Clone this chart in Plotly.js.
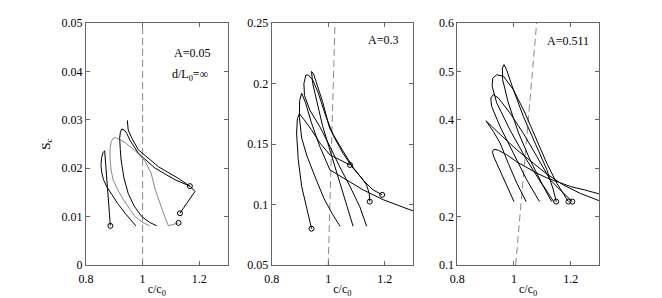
<!DOCTYPE html>
<html><head><meta charset="utf-8">
<script src="https://cdn.plot.ly/plotly-3.0.1.min.js"></script>
<style>html,body{margin:0;padding:0;background:#fff}</style>
</head><body><div id="chart" style="width:662px;height:298px"></div>
<script>
// ---------- Panel 1 (A=0.05) ----------
const p1A_x = [0.886,0.880,0.874,0.869,0.866,0.860,0.855,0.853,0.856,0.862,0.875,0.891,0.912,0.938,0.958,0.976];
const p1A_y = [0.0081,0.0130,0.0185,0.0225,0.0236,0.0232,0.0222,0.0205,0.0190,0.0176,0.0160,0.0146,0.0127,0.0107,0.0093,0.0081];
const p1B_x = [1.127,1.091,1.075,1.060,1.045,1.030,1.008,0.980,0.961,0.940,0.920,0.905,0.896,0.889,0.885,0.885,0.889,0.896,0.910,0.926,0.948,0.973,1.000,1.025];
const p1B_y = [0.0087,0.0081,0.0105,0.0130,0.0155,0.0190,0.0215,0.0233,0.0242,0.0252,0.0259,0.0263,0.0262,0.0255,0.0240,0.0217,0.0195,0.0176,0.0158,0.0141,0.0121,0.0100,0.0088,0.0081];
const p1C_x = [1.167,1.115,1.044,0.985,0.955,0.944,0.935,0.926,0.921,0.919,0.921,0.924,0.934,0.949,0.970,0.997,1.025,1.050];
const p1C_y = [0.0163,0.0176,0.0200,0.0231,0.0258,0.0272,0.0279,0.0281,0.0273,0.0262,0.0240,0.0217,0.0180,0.0148,0.0122,0.0100,0.0088,0.0081];
const p1D_x = [1.132,1.185,1.167,1.126,1.056,0.985,0.962,0.949,0.946];
const p1D_y = [0.0107,0.0152,0.0163,0.0179,0.0203,0.0238,0.0262,0.0279,0.0299];
const p1Start_x = [0.886,1.127,1.167,1.132];
const p1Start_y = [0.0081,0.0087,0.0163,0.0107];
const p1Dash_x = [1.0,1.0];
const p1Dash_y = [0.0,0.05];

// ---------- Panel 2 (A=0.3) ----------
const p2A_x = [0.941,0.924,0.906,0.894,0.888,0.891,0.898,0.915,0.940,0.970,1.006,1.040,1.077];
const p2A_y = [0.080,0.098,0.115,0.137,0.159,0.171,0.175,0.170,0.162,0.151,0.141,0.137,0.1327];
const p2B_x = [1.30,1.25,1.194,1.124,1.06,1.006,0.970,0.940,0.920,0.906,0.899,0.898,0.906,0.925,0.955,0.985,1.015,1.042];
const p2B_y = [0.0947,0.099,0.104,0.112,0.121,0.1286,0.148,0.168,0.184,0.192,0.186,0.172,0.155,0.140,0.122,0.105,0.092,0.082];
const p2C_x = [1.147,1.145,1.136,1.118,1.088,1.053,1.018,0.990,0.965,0.945,0.930,0.921,0.914,0.916,0.935,0.971,1.006,1.041,1.077,1.112,1.136];
const p2C_y = [0.1024,0.109,0.116,0.122,0.130,0.142,0.157,0.174,0.192,0.203,0.207,0.207,0.200,0.190,0.178,0.164,0.148,0.131,0.115,0.098,0.082];
const p2D_x = [1.191,1.159,1.124,1.090,1.050,1.005,0.980,0.960,0.948,0.941,0.945,0.960,0.980,1.006,1.035,1.065,1.088];
const p2D_y = [0.108,0.112,0.120,0.130,0.145,0.163,0.185,0.200,0.208,0.210,0.200,0.185,0.165,0.145,0.123,0.101,0.082];
const p2Start_x = [0.941,1.077,1.147,1.191];
const p2Start_y = [0.080,0.1327,0.1024,0.108];
const p2Dash_x = [1.0,1.024];
const p2Dash_y = [0.05,0.25];

// ---------- Panel 3 (A=0.511) ----------
const p3A_x = [1.140,1.098,1.057,1.016,0.980,0.960,0.959,0.965,0.974,0.998,1.033,1.075,1.116,1.139,1.149];
const p3A_y = [0.231,0.269,0.317,0.373,0.435,0.483,0.507,0.514,0.503,0.462,0.407,0.352,0.297,0.255,0.231];
const p3B_x = [1.133,1.104,1.045,0.986,0.939,0.923,0.925,0.939,0.963,0.998,1.039,1.081,1.116,1.151,1.175,1.192];
const p3B_y = [0.231,0.262,0.317,0.379,0.435,0.469,0.486,0.493,0.490,0.462,0.414,0.359,0.310,0.269,0.245,0.231];
const p3C_x = [1.090,1.045,0.998,0.951,0.921,0.918,0.927,0.945,0.986,1.033,1.081,1.128,1.163,1.186,1.200,1.206];
const p3C_y = [0.231,0.276,0.331,0.386,0.428,0.445,0.452,0.445,0.414,0.372,0.324,0.276,0.255,0.241,0.234,0.231];
const p3D_x = [1.043,1.010,0.980,0.951,0.927,0.901,0.951,1.010,1.069,1.116,1.175,1.234,1.30];
const p3D_y = [0.231,0.269,0.310,0.352,0.376,0.398,0.370,0.338,0.310,0.288,0.265,0.248,0.233];
const p3E_x = [1.000,0.975,0.950,0.930,0.924,0.927,0.933,0.945,0.974,1.010,1.045,1.080,1.116,1.160,1.200,1.250,1.30];
const p3E_y = [0.231,0.262,0.296,0.322,0.333,0.338,0.339,0.337,0.328,0.313,0.301,0.290,0.280,0.270,0.262,0.255,0.247];
const p3Start_x = [1.149,1.192,1.206];
const p3Start_y = [0.231,0.231,0.231];
const p3Dash_x = [1.006,1.08];
const p3Dash_y = [0.1,0.6];

// ---------- Axes / labels ----------
const xTickVals = [0.8,1,1.2];
const xTickText = ['0.8','1','1.2'];
const y1TickVals = [0,0.01,0.02,0.03,0.04,0.05];
const y1TickText = ['0','0.01','0.02','0.03','0.04','0.05'];
const y2TickVals = [0.05,0.1,0.15,0.2,0.25];
const y2TickText = ['0.05','0.1','0.15','0.2','0.25'];
const y3TickVals = [0.1,0.2,0.3,0.4,0.5,0.6];
const y3TickText = ['0.1','0.2','0.3','0.4','0.5','0.6'];
const panelLabels = ['A=0.05','A=0.3','A=0.511'];

const FONT = 'Liberation Serif';
const thick = {color:'#000', width:1};
const thin = {color:'#555', width:0.7};
const dash = {color:'#888', width:1, dash:'7px,4px'};

function line(x,y,xa,ya,ln){return {x:x,y:y,xaxis:xa,yaxis:ya,type:'scatter',mode:'lines',line:ln,hoverinfo:'skip',showlegend:false};}
function circ(x,y,xa,ya){return {x:x,y:y,xaxis:xa,yaxis:ya,type:'scatter',mode:'markers',marker:{symbol:'circle-open',size:5,color:'#000',line:{width:1,color:'#000'}},hoverinfo:'skip',showlegend:false};}

const data = [
  line(p1Dash_x,p1Dash_y,'x','y',dash),
  line(p1A_x,p1A_y,'x','y',thick),
  line(p1B_x,p1B_y,'x','y',thin),
  line(p1C_x,p1C_y,'x','y',thick),
  line(p1D_x,p1D_y,'x','y',thick),
  circ(p1Start_x,p1Start_y,'x','y'),
  line(p2Dash_x,p2Dash_y,'x2','y2',dash),
  line(p2A_x,p2A_y,'x2','y2',thick),
  line(p2B_x,p2B_y,'x2','y2',thick),
  line(p2C_x,p2C_y,'x2','y2',thick),
  line(p2D_x,p2D_y,'x2','y2',thick),
  circ(p2Start_x,p2Start_y,'x2','y2'),
  line(p3Dash_x,p3Dash_y,'x3','y3',dash),
  line(p3A_x,p3A_y,'x3','y3',thick),
  line(p3B_x,p3B_y,'x3','y3',thick),
  line(p3C_x,p3C_y,'x3','y3',thick),
  line(p3D_x,p3D_y,'x3','y3',thick),
  line(p3E_x,p3E_y,'x3','y3',thick),
  circ(p3Start_x,p3Start_y,'x3','y3')
];

function xax(dom, anchor){
  return {domain:dom, anchor:anchor, range:[0.8,1.3], tickvals:xTickVals, ticktext:xTickText,
    ticks:'inside', ticklen:4, tickcolor:'#666', mirror:'ticks', showline:true, linecolor:'#666', linewidth:1,
    showgrid:false, zeroline:false, automargin:false, ticklabelstandoff:3,
    tickfont:{family:FONT,size:12,color:'#000'},
    title:{text:'c/c<sub>0</sub>', font:{family:FONT,size:12,color:'#000'}, standoff:1}};
}
function yax(anchor, range, tv, tt, title){
  const a = {anchor:anchor, domain:[0,1], range:range, tickvals:tv, ticktext:tt,
    ticks:'inside', ticklen:4, tickcolor:'#666', mirror:'ticks', showline:true, linecolor:'#666', linewidth:1,
    showgrid:false, zeroline:false, automargin:false,
    tickfont:{family:FONT,size:12,color:'#000'}};
  if (title) a.title = {text:title, font:{family:FONT,size:13,color:'#000'}, standoff:8};
  return a;
}

const layout = {
  width:662, height:298, margin:{l:0,r:0,t:23,b:33},
  paper_bgcolor:'#fff', plot_bgcolor:'#fff',
  font:{family:FONT,size:12,color:'#000'},
  xaxis: xax([0.1299,0.3437],'y'),
  yaxis: yax('x',[0,0.05],y1TickVals,y1TickText,'S<sub>c</sub>'),
  xaxis2: xax([0.4104,0.6239],'y2'),
  yaxis2: yax('x2',[0.05,0.25],y2TickVals,y2TickText,null),
  xaxis3: xax([0.6908,0.9048],'y3'),
  yaxis3: yax('x3',[0.1,0.6],y3TickVals,y3TickText,null),
  annotations:[
    {xref:'x',yref:'y',x:1.173,y:0.0439,text:panelLabels[0],showarrow:false,font:{family:FONT,size:12,color:'#000'}},
    {xref:'x',yref:'y',x:1.167,y:0.0392,text:'d/L<sub>0</sub>=∞',showarrow:false,font:{family:FONT,size:12,color:'#000'}},
    {xref:'x2',yref:'y2',x:1.194,y:0.236,text:panelLabels[1],showarrow:false,font:{family:FONT,size:12,color:'#000'}},
    {xref:'x3',yref:'y3',x:1.192,y:0.562,text:panelLabels[2],showarrow:false,font:{family:FONT,size:12,color:'#000'}}
  ]
};
Plotly.newPlot('chart', data, layout, {staticPlot:true, displayModeBar:false});
</script></body></html>
